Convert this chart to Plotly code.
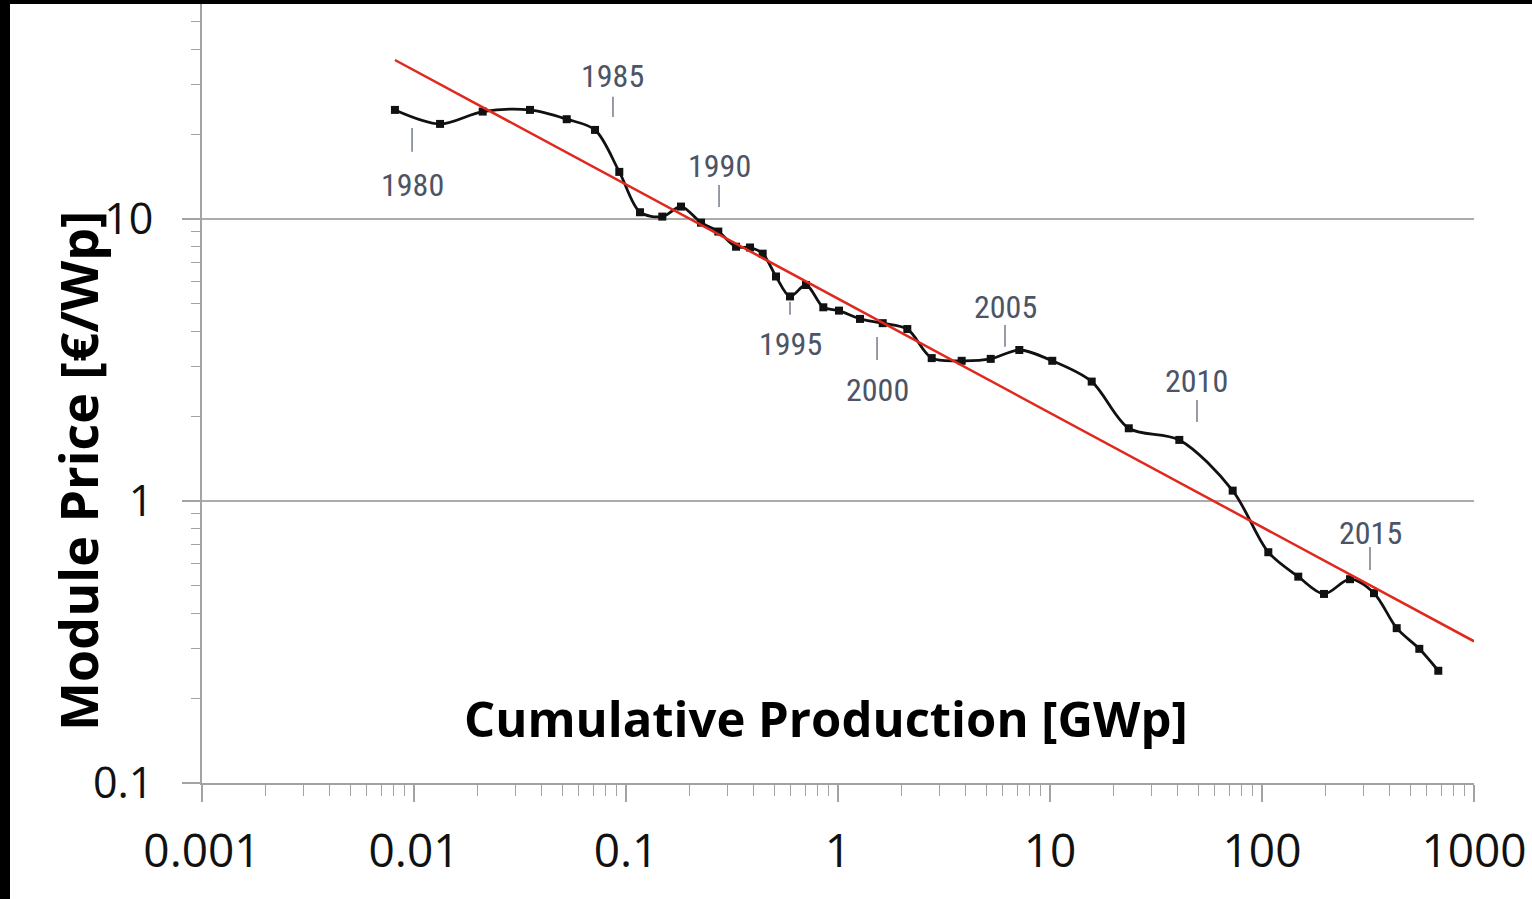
import math
import plotly.graph_objects as go

# ---------------- data ----------------
cum_production_gwp = [
    0.00813, 0.01327, 0.02109, 0.03525, 0.05253, 0.07142, 0.09298, 0.1164,
    0.1483, 0.1817, 0.2259, 0.2725, 0.3304, 0.3845, 0.4413, 0.5099, 0.5937,
    0.7066, 0.8525, 1.011, 1.270, 1.625, 2.123, 2.767, 3.832, 5.252, 7.165,
    10.25, 15.73, 23.53, 40.73, 72.73, 107.1, 148.3, 196.1, 260.1, 337.6,
    431.9, 552.1, 678.6,
]
module_price_eur_wp = [
    24.35, 21.72, 24.02, 24.35, 22.57, 20.68, 14.68, 10.56,
    10.19, 11.06, 9.70, 9.02, 7.97, 7.92, 7.53, 6.25, 5.31,
    5.83, 4.86, 4.73, 4.42, 4.27, 4.07, 3.21, 3.14, 3.19, 3.43,
    3.14, 2.65, 1.81, 1.646, 1.088, 0.658, 0.539, 0.468, 0.528, 0.471,
    0.354, 0.299, 0.250,
]

fit_x = [0.00813, 1000]
fit_y = [36.6, 0.318]

year_labels = ["1980", "1985", "1990", "1995", "2000", "2005", "2010", "2015"]
year_x = [0.00979, 0.0868, 0.2747, 0.5937, 1.528, 6.134, 49.35, 323.2]
year_label_y = [13.2, 32.1, 15.4, 3.60, 2.475, 4.875, 2.665, 0.770]
year_tick_top = [21.0, 27.1, 13.2, 5.08, 3.815, 4.21, 2.28, 0.687]
year_tick_bottom = [17.3, 23.0, 11.03, 4.57, 3.16, 3.52, 1.906, 0.569]

x_tick_vals = [0.001, 0.01, 0.1, 1, 10, 100, 1000]
x_tick_text = ["0.001", "0.01", "0.1", "1", "10", "100", "1000"]
y_tick_vals = [0.1, 1, 10]
y_tick_text = ["0.1", "1", "10"]

x_title = "Cumulative Production [GWp]"
y_title = "Module Price [€/Wp]"

# ---------------- layout constants ----------------
W, H = 1532, 899
ML, MR, MT, MB = 202, 58, 4, 116
PW, PH = W - ML - MR, H - MT - MB

AXIS_GREY = "#a3a3a3"
LABEL_COL = "#4c5466"

minor_x = [m * 10 ** e for e in range(-3, 3) for m in range(2, 10)]
minor_y = [m * 10 ** e for e in range(-1, 2) for m in range(2, 10) if m * 10 ** e < 58]

fig = go.Figure()

# year marker ticks
tx, ty = [], []
for x, y0, y1 in zip(year_x, year_tick_top, year_tick_bottom):
    tx += [x, x, None]
    ty += [y0, y1, None]
fig.add_trace(go.Scatter(x=tx, y=ty, mode="lines",
                         line=dict(color="#7d8390", width=1.6),
                         hoverinfo="skip", showlegend=False))

# price curve
fig.add_trace(go.Scatter(
    x=cum_production_gwp, y=module_price_eur_wp, mode="lines+markers",
    line=dict(color="#111111", width=2.8, shape="spline", smoothing=0.9),
    marker=dict(symbol="square", size=8, color="#111111"),
    showlegend=False,
))

# learning curve fit
fig.add_trace(go.Scatter(
    x=fit_x, y=fit_y, mode="lines",
    line=dict(color="#e0281e", width=2.5),
    showlegend=False,
))

annotations = []
for lab, x, y in zip(year_labels, year_x, year_label_y):
    annotations.append(dict(
        x=math.log10(x), y=math.log10(y), xref="x", yref="y", text=lab,
        showarrow=False, xanchor="center", yanchor="middle",
        font=dict(family="Liberation Sans Narrow, Roboto Condensed, Roboto, sans-serif",
                  size=32, color=LABEL_COL),
    ))

# x-axis title inside plot
annotations.append(dict(
    x=(826 - ML) / PW, y=(H - MB - 718) / PH, xref="paper", yref="paper",
    text="<b>" + x_title + "</b>", showarrow=False,
    xanchor="center", yanchor="middle",
    font=dict(family="Open Sans, sans-serif", size=49, color="#000000"),
))
# y-axis title
annotations.append(dict(
    x=(78 - ML) / PW, y=(H - MB - 471) / PH, xref="paper", yref="paper",
    text="<b>" + y_title + "</b>", showarrow=False, textangle=-90,
    xanchor="center", yanchor="middle",
    font=dict(family="Open Sans, sans-serif", size=52, color="#000000"),
))

shapes = [
    # black frame strips of the screenshot
    dict(type="rect", xref="paper", yref="paper",
         x0=(0 - ML) / PW, x1=(10 - ML) / PW, y0=(H - MB - H) / PH, y1=(H - MB) / PH,
         fillcolor="#000000", line=dict(width=0), layer="above"),
    dict(type="rect", xref="paper", yref="paper",
         x0=(0 - ML) / PW, x1=(W - ML) / PW, y0=(H - MB - 4) / PH, y1=(H - MB) / PH,
         fillcolor="#000000", line=dict(width=0), layer="above"),
]

fig.update_layout(
    width=W, height=H, autosize=False,
    margin=dict(l=ML, r=MR, t=MT, b=MB, pad=0),
    paper_bgcolor="#ffffff", plot_bgcolor="#ffffff",
    annotations=annotations, shapes=shapes,
    showlegend=False,
)

fig.update_xaxes(
    type="log", range=[-3, 3],
    tickvals=x_tick_vals, ticktext=x_tick_text,
    ticks="outside", ticklen=17, tickwidth=1.6, tickcolor=AXIS_GREY,
    showline=True, linecolor=AXIS_GREY, linewidth=2,
    showgrid=False, zeroline=False,
    tickfont=dict(family="Open Sans, sans-serif", size=46, color="#111111"),
    ticklabelstandoff=10,
    minor=dict(tickvals=minor_x, ticks="outside", ticklen=11, tickwidth=1.4,
               tickcolor=AXIS_GREY, showgrid=False),
)
fig.update_yaxes(
    type="log", range=[-1, 1.762],
    tickvals=y_tick_vals, ticktext=y_tick_text,
    ticks="outside", ticklen=18, tickwidth=1.6, tickcolor=AXIS_GREY,
    showline=True, linecolor=AXIS_GREY, linewidth=2,
    showgrid=True, gridcolor="#ababab", gridwidth=1.8, zeroline=False,
    tickfont=dict(family="Open Sans, sans-serif", size=43, color="#111111"),
    ticklabelstandoff=20,
    minor=dict(tickvals=minor_y, ticks="outside", ticklen=9, tickwidth=1.4,
               tickcolor=AXIS_GREY, showgrid=False),
)

fig.write_html(
    "out.html",
    config={"displayModeBar": False},
    post_script="document.body.style.margin='0';document.body.style.overflow='hidden';",
)
